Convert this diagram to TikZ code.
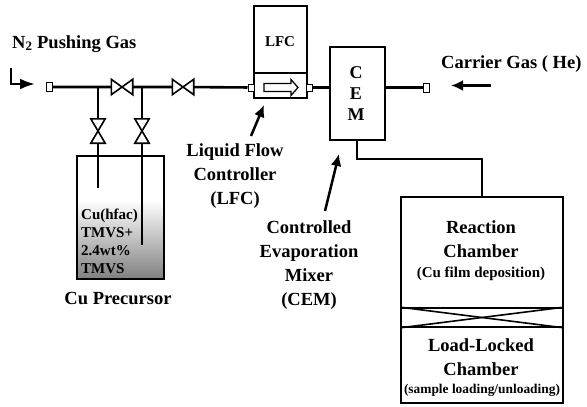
\documentclass[tikz,border=0pt]{standalone}
\usepackage{fontspec}
\setmainfont{Liberation Serif}
\usetikzlibrary{arrows.meta}

\tikzset{
        pipe/.style={line width=2.6pt},
        box/.style={draw, line width=1.6pt, rectangle, inner sep=0pt},
        port/.style={draw, line width=1pt, fill=white, rectangle, inner sep=0pt, minimum width=6pt, minimum height=9pt},
        valveh/.style={rectangle, inner sep=0pt, minimum width=21pt, minimum height=15pt},
        valvev/.style={rectangle, inner sep=0pt, minimum width=14pt, minimum height=24pt},
        pointer/.style={line width=2.5pt, -{Latex[length=12pt,width=11pt]}},
        big/.style={font=\bfseries\fontsize{18.5}{24.3}\selectfont, align=center, inner sep=0pt},
        small/.style={font=\bfseries\fontsize{15}{18}\selectfont, align=left, inner sep=0pt},
}

\begin{document}
\begin{tikzpicture}[x=1pt, y=-1pt]
        \useasboundingbox (0, 0) rectangle (587, 407);
        % precursor tank
        \shade[top color=white, bottom color=black!50] (77, 200) rectangle (164, 279);
        \node[box, minimum width=87pt, minimum height=123pt] (tank) at (120.5, 217.5) {};
        % gas line
        \node[port] (inlet) at (49, 87) {};
        \coordinate (teeA) at (98, 87);
        \coordinate (teeB) at (142, 87);
        \node[valveh] (valveA) at (122, 87) {};
        \node[valveh] (valveB) at (183, 87) {};
        \node[valvev] (valveC) at (98, 131) {};
        \node[valvev] (valveD) at (142, 131) {};
        \coordinate (dipA) at (98, 188);
        \coordinate (dipB) at (142, 245);
        % LFC and CEM
        \node[box, minimum width=53pt, minimum height=67pt] (lfcTop) at (280.5, 39.5) {};
        \node[box, minimum width=53pt, minimum height=25pt] (lfcBot) at (280.5, 85.5) {};
        \node[port, minimum height=7pt] (lfcIn) at (251, 87.5) {};
        \node[port, minimum height=7pt] (lfcOut) at (309.5, 87.5) {};
        \coordinate (lfcArrow) at (281, 87.5);
        \draw[line width=1.3pt] (lfcArrow) ++(-17, -4) -- ++(27, 0) -- ++(0, -4) -- ++(7, 8)
                -- ++(-7, 8) -- ++(0, -4) -- ++(-27, 0) -- cycle;
        \node[box, minimum width=55pt, minimum height=93pt] (cem) at (357.5, 93.5) {};
        \node[port] (outlet) at (426, 87.5) {};
        % chambers
        \node[box, minimum width=162pt, minimum height=111pt] (reaction) at (482, 252.5) {};
        \node[box, minimum width=162pt, minimum height=19pt] (gate) at (482, 317.5) {};
        \node[box, minimum width=162pt, minimum height=76pt] (loadlock) at (482, 365) {};
        \coordinate (bendA) at (357, 159);
        \coordinate (bendB) at (482, 159);

        \draw[pipe] (inlet) -- (valveA) -- (valveB) -- (lfcIn);
        \draw[pipe] (lfcOut) -- (cem.west |- lfcOut);
        \draw[pipe] (cem.east |- outlet) -- (outlet);
        \draw[pipe] (teeA) -- (valveC) -- (dipA);
        \draw[pipe] (teeB) -- (valveD) -- (dipB);
        \draw[pipe] (cem.south -| bendA) -- (bendA) -- (bendB) -- (reaction.north -| bendB);
        \foreach \v in {valveA, valveB}
                \draw[line width=1.6pt, fill=white] (\v.north west) -- (\v.south east)
                        -- (\v.north east) -- (\v.south west) -- cycle;
        \foreach \v in {valveC, valveD}
                \draw[line width=1.6pt, fill=white] (\v.north west) -- (\v.south east)
                        -- (\v.south west) -- (\v.north east) -- cycle;
        \draw[line width=1.6pt] (gate.north west) -- (gate.south east);
        \draw[line width=1.6pt] (gate.south west) -- (gate.north east);

        % pointers
        \coordinate (bendStart) at (11, 68);
        \coordinate (bendCorner) at (11, 84);
        \coordinate (bendTip) at (35, 84);
        \draw[line width=2.5pt, -{Latex[length=15pt,width=11pt]}] (bendStart) -- (bendCorner) -- (bendTip);
        \coordinate (lfcTail) at (251, 136);
        \coordinate (lfcTip) at (264, 105);
        \draw[pointer] (lfcTail) -- (lfcTip);
        \coordinate (cemTail) at (325, 211);
        \coordinate (cemTip) at (339, 154);
        \draw[pointer] (cemTail) -- (cemTip);
        \coordinate (heTail) at (491, 85.5);
        \coordinate (heTip) at (451, 85.5);
        \draw[pointer] (heTail) -- (heTip);

        % labels
        \node[big, anchor=base west] (pushLabel) at (12, 48) {N\textsubscript{2} Pushing Gas};
        \node[big, anchor=base west] (heLabel) at (441, 68) {Carrier Gas ( He)};
        \node[font=\bfseries\fontsize{15}{15}\selectfont, inner sep=0pt] (lfcLabel) at (280, 42) {LFC};
        \node[big, font=\bfseries\fontsize{18}{21}\selectfont] (cemLetters) at (356, 94) {C\\E\\M};
        \node[big, anchor=north] (lfcName) at (235, 143) {Liquid Flow\\Controller\\(LFC)};
        \node[big, anchor=north] (cemName) at (309, 220) {Controlled\\Evaporation\\Mixer\\(CEM)};
        \node[big] (cuLabel) at (118, 298) {Cu Precursor};
        \node[small, anchor=north west] (liquid) at (81, 209) {Cu(hfac)\\TMVS+\\2.4wt\%\\TMVS};
        \node[big] (reactLabel) at (481, 239) {Reaction\\Chamber};
        \node[font=\bfseries\fontsize{15}{15}\selectfont, inner sep=0pt] (reactNote) at (481, 274) {(Cu film deposition)};
        \node[big] (lockLabel) at (481, 357) {Load-Locked\\Chamber};
        \node[font=\bfseries\fontsize{13.4}{15}\selectfont, inner sep=0pt] (lockNote) at (482, 390) {(sample loading/unloading)};
\end{tikzpicture}
\end{document}
